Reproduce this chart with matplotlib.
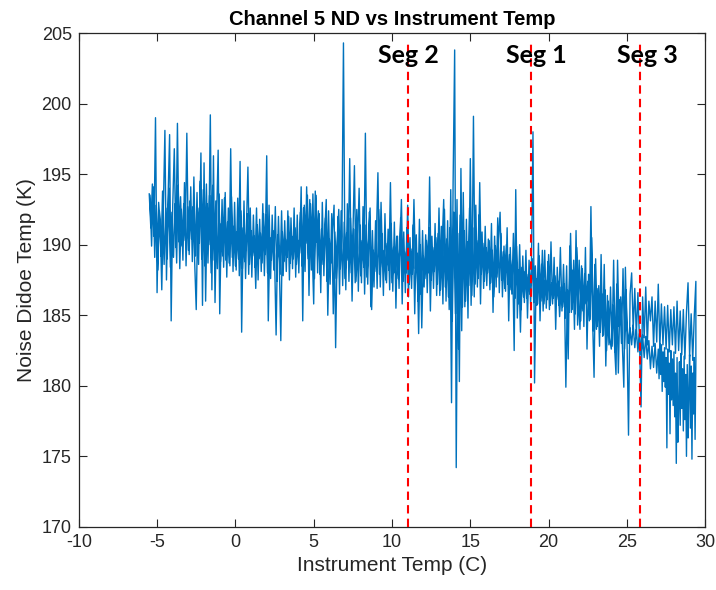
import numpy as np
import matplotlib
matplotlib.use('Agg')
import matplotlib.pyplot as plt

# instrument temp (C) on the warm-up pass
temp_up = [
    -5.5, -5.4, -5.3, -5.2, -5.1, -5.0, -4.9, -4.8, -4.7, -4.6,
    -4.5, -4.4, -4.3, -4.2, -4.1, -4.0, -3.9, -3.8, -3.7, -3.6,
    -3.5, -3.4, -3.3, -3.2, -3.1, -3.0, -2.9, -2.8, -2.7, -2.6,
    -2.5, -2.4, -2.3, -2.2, -2.1, -2.0, -1.9, -1.8, -1.7, -1.6,
    -1.5, -1.4, -1.3, -1.2, -1.1, -1.0, -0.9, -0.8, -0.7, -0.6,
    -0.5, -0.4, -0.3, -0.2, -0.1, 0.0, 0.1, 0.2, 0.3, 0.4,
    0.5, 0.6, 0.7, 0.8, 0.9, 1.0, 1.1, 1.2, 1.3, 1.4,
    1.5, 1.6, 1.7, 1.8, 1.9, 2.0, 2.1, 2.2, 2.3, 2.4,
    2.5, 2.6, 2.7, 2.8, 2.9, 3.0, 3.1, 3.2, 3.3, 3.4,
    3.5, 3.6, 3.7, 3.8, 3.9, 4.0, 4.1, 4.2, 4.3, 4.4,
    4.5, 4.6, 4.7, 4.8, 4.9, 5.0, 5.1, 5.2, 5.3, 5.4,
    5.5, 5.6, 5.7, 5.8, 5.9, 6.0, 6.1, 6.2, 6.3, 6.4,
    6.5, 6.6, 6.7, 6.8, 6.9, 7.0, 7.1, 7.2, 7.3, 7.4,
    7.5, 7.6, 7.7, 7.8, 7.9, 8.0, 8.1, 8.2, 8.3, 8.4,
    8.5, 8.6, 8.7, 8.8, 8.9, 9.0, 9.1, 9.2, 9.3, 9.4,
    9.5, 9.6, 9.7, 9.8, 9.9, 10.0, 10.1, 10.2, 10.3, 10.4,
    10.5, 10.6, 10.7, 10.8, 10.9, 11.0, 11.1, 11.2, 11.3, 11.4,
    11.5, 11.6, 11.7, 11.8, 11.9, 12.0, 12.1, 12.2, 12.3, 12.4,
    12.5, 12.6, 12.7, 12.8, 12.9, 13.0, 13.1, 13.2, 13.3, 13.4,
    13.5, 13.6, 13.7, 13.8, 13.9, 14.0, 14.1, 14.2, 14.3, 14.4,
    14.5, 14.6, 14.7, 14.8, 14.9, 15.0, 15.1, 15.2, 15.3, 15.4,
    15.5, 15.6, 15.7, 15.8, 15.9, 16.0, 16.1, 16.2, 16.3, 16.4,
    16.5, 16.6, 16.7, 16.8, 16.9, 17.0, 17.1, 17.2, 17.3, 17.4,
    17.5, 17.6, 17.7, 17.8, 17.9, 18.0, 18.1, 18.2, 18.3, 18.4,
    18.5, 18.6, 18.7, 18.8, 18.9, 19.0, 19.1, 19.2, 19.3, 19.4,
    19.5, 19.6, 19.7, 19.8, 19.9, 20.0, 20.1, 20.2, 20.3, 20.4,
    20.5, 20.6, 20.7, 20.8, 20.9, 21.0, 21.1, 21.2, 21.3, 21.4,
    21.5, 21.6, 21.7, 21.8, 21.9, 22.0, 22.1, 22.2, 22.3, 22.4,
    22.5, 22.6, 22.7, 22.8, 22.9, 23.0, 23.1, 23.2, 23.3, 23.4,
    23.5, 23.6, 23.7, 23.8, 23.9, 24.0, 24.1, 24.2, 24.3, 24.4,
    24.5, 24.6, 24.7, 24.8, 24.9, 25.0, 25.1, 25.2, 25.3, 25.4,
    25.5, 25.6, 25.7, 25.8, 25.9, 26.0, 26.1, 26.2, 26.3, 26.4,
    26.5, 26.6, 26.7, 26.8, 26.9, 27.0, 27.1, 27.2, 27.3, 27.4,
    27.5, 27.6, 27.7, 27.8, 27.9, 28.0, 28.1, 28.2, 28.3, 28.4,
    28.5, 28.6, 28.7, 28.8, 28.9, 29.0, 29.1, 29.2, 29.3, 29.4,
]

# noise diode temp (K), warm-up pass
nd_up = [
    193.6, 191.2, 194.3, 190.6, 199.0, 186.6, 193.0, 191.5, 186.8, 192.5,
    198.1, 187.5, 193.2, 197.8, 184.6, 192.8, 196.8, 189.8, 198.6, 190.2,
    193.4, 189.9, 192.9, 190.3, 197.9, 189.6, 193.1, 190.4, 192.7, 188.8,
    185.4, 192.6, 190.1, 196.5, 185.7, 195.8, 186.0, 192.9, 190.0, 199.2,
    186.8, 196.3, 185.9, 191.8, 196.7, 185.1, 191.5, 189.2, 193.3, 188.9,
    191.6, 188.7, 196.8, 189.1, 191.3, 188.5, 190.9, 189.0, 195.9, 183.8,
    191.2, 188.8, 190.9, 195.5, 188.6, 191.0, 189.2, 190.6, 186.9, 191.4,
    189.0, 190.8, 188.7, 192.2, 189.3, 196.3, 184.6, 190.5, 188.9, 191.0,
    189.2, 183.6, 190.7, 189.0, 183.2, 190.9, 188.8, 190.4, 189.1, 192.0,
    188.7, 190.6, 189.0, 191.2, 188.6, 190.3, 189.4, 194.1, 184.6, 192.8,
    190.1, 193.5, 186.4, 192.9, 189.8, 185.8, 193.8, 190.2, 192.4, 187.9,
    191.1, 188.6, 190.7, 193.2, 185.0, 190.4, 188.7, 191.0, 192.8, 182.7,
    189.9, 192.5, 188.3, 190.6, 204.3, 187.6, 190.8, 188.9, 196.1, 188.0,
    190.5, 195.6, 187.4, 189.8, 194.0, 187.8, 190.3, 188.4, 197.9, 187.7,
    190.1, 192.6, 185.4, 189.6, 188.1, 190.4, 195.1, 187.9, 193.0, 188.4,
    189.6, 187.5, 190.1, 188.2, 194.4, 187.3, 189.8, 188.0, 190.6, 187.6,
    189.9, 193.2, 187.4, 189.5, 188.0, 192.8, 187.2, 189.7, 187.9, 193.2,
    188.3, 189.4, 183.7, 190.0, 184.1, 189.2, 187.6, 190.3, 188.0, 194.8,
    187.5, 189.8, 188.1, 190.5, 187.2, 192.6, 186.8, 189.9, 193.2, 187.0,
    190.4, 186.3, 191.2, 178.8, 194.3, 203.8, 174.2, 190.8, 180.3, 195.4,
    185.6, 191.0, 186.0, 190.2, 187.1, 196.1, 186.4, 199.1, 187.2, 190.3,
    187.6, 194.4, 187.9, 190.1, 187.4, 189.8, 188.0, 190.3, 187.3, 189.6,
    186.3, 189.9, 187.7, 190.2, 192.3, 187.5, 189.5, 186.9, 190.0, 187.2,
    189.3, 186.8, 188.9, 182.5, 193.9, 184.8, 188.2, 183.8, 188.4, 186.3,
    188.1, 186.2, 187.9, 186.5, 188.3, 198.0, 180.2, 187.6, 185.8, 189.2,
    186.0, 189.6, 185.8, 187.5, 186.1, 189.3, 185.7, 187.3, 186.2, 187.8,
    186.1, 187.4, 184.9, 187.0, 185.6, 187.2, 179.9, 186.8, 185.2, 190.8,
    185.4, 188.9, 185.1, 189.8, 186.2, 184.0, 188.5, 185.3, 187.9, 185.8,
    187.4, 184.6, 192.7, 185.0, 180.6, 189.0, 184.2, 187.1, 183.8, 186.5,
    183.6, 186.8, 182.5, 186.0, 183.4, 182.6, 185.7, 183.0, 180.8, 188.9,
    184.2, 186.3, 183.1, 179.9, 188.4, 183.6, 176.5, 186.5, 188.0, 184.0,
    186.9, 183.6, 186.6, 183.2, 178.5, 186.3, 183.4, 187.0, 182.9, 186.0,
    184.6, 186.3, 182.8, 186.0, 183.1, 187.2, 182.7, 185.8, 182.9, 185.6,
    182.6, 185.7, 182.4, 185.4, 182.9, 185.6, 182.3, 186.0, 182.5, 185.3,
    182.2, 185.4, 181.9, 185.2, 187.3, 182.1, 185.1, 181.8, 185.0, 187.4,
]

# cool-down pass: instrument temp (C)
temp_down = [
    29.40, 29.35, 29.30, 29.25, 29.20, 29.15, 29.10, 29.05, 29.00, 28.95,
    28.90, 28.85, 28.80, 28.75, 28.70, 28.65, 28.60, 28.55, 28.50, 28.45,
    28.40, 28.35, 28.30, 28.25, 28.20, 28.15, 28.10, 28.05, 28.00, 27.95,
    27.90, 27.85, 27.80, 27.75, 27.70, 27.65, 27.60, 27.55, 27.50, 27.45,
    27.40, 27.35, 27.30, 27.25, 27.20, 27.15, 27.10, 27.05,
    27.0, 26.9, 26.8, 26.7, 26.6, 26.5, 26.4, 26.3, 26.2, 26.1,
    26.0, 25.9, 25.8, 25.7, 25.6, 25.5, 25.4, 25.3, 25.2, 25.1,
    25.0,
    24.95, 24.85, 24.75, 24.65, 24.55, 24.45, 24.35, 24.25, 24.15, 24.05,
    23.95, 23.85, 23.75, 23.65, 23.55, 23.45, 23.35, 23.25, 23.15, 23.05,
    22.95, 22.85, 22.75, 22.65, 22.55, 22.45, 22.35, 22.25, 22.15, 22.05,
    21.95, 21.85, 21.75, 21.65, 21.55, 21.45, 21.35, 21.25, 21.15, 21.05,
    20.95, 20.85, 20.75, 20.65, 20.55, 20.45, 20.35, 20.25, 20.15, 20.05,
    19.95, 19.85, 19.75, 19.65, 19.55, 19.45, 19.35, 19.25, 19.15, 19.05,
    18.95, 18.85, 18.75, 18.65, 18.55, 18.45, 18.35, 18.25, 18.15, 18.05,
    17.95, 17.85, 17.75, 17.65, 17.55, 17.45, 17.35, 17.25, 17.15, 17.05,
    16.95, 16.85, 16.75, 16.65, 16.55, 16.45, 16.35, 16.25, 16.15, 16.05,
    15.95, 15.85, 15.75, 15.65, 15.55, 15.45, 15.35, 15.25, 15.15, 15.05,
    14.95, 14.85, 14.75, 14.65, 14.55, 14.45, 14.35, 14.25, 14.15, 14.05,
    13.95, 13.85, 13.75, 13.65, 13.55, 13.45, 13.35, 13.25, 13.15, 13.05,
    12.95, 12.85, 12.75, 12.65, 12.55, 12.45, 12.35, 12.25, 12.15, 12.05,
    11.95, 11.85, 11.75, 11.65, 11.55, 11.45, 11.35, 11.25, 11.15, 11.05,
    10.95, 10.85, 10.75, 10.65, 10.55, 10.45, 10.35, 10.25, 10.15, 10.05,
    9.95, 9.85, 9.75, 9.65, 9.55, 9.45, 9.35, 9.25, 9.15, 9.05,
    8.95, 8.85, 8.75, 8.65, 8.55, 8.45, 8.35, 8.25, 8.15, 8.05,
    7.95, 7.85, 7.75, 7.65, 7.55, 7.45, 7.35, 7.25, 7.15, 7.05,
    6.95, 6.85, 6.75, 6.65, 6.55, 6.45, 6.35, 6.25, 6.15, 6.05,
    5.95, 5.85, 5.75, 5.65, 5.55, 5.45, 5.35, 5.25, 5.15, 5.05,
    4.95, 4.85, 4.75, 4.65, 4.55, 4.45, 4.35, 4.25, 4.15, 4.05,
    3.95, 3.85, 3.75, 3.65, 3.55, 3.45, 3.35, 3.25, 3.15, 3.05,
    2.95, 2.85, 2.75, 2.65, 2.55, 2.45, 2.35, 2.25, 2.15, 2.05,
    1.95, 1.85, 1.75, 1.65, 1.55, 1.45, 1.35, 1.25, 1.15, 1.05,
    0.95, 0.85, 0.75, 0.65, 0.55, 0.45, 0.35, 0.25, 0.15, 0.05,
    -0.05, -0.15, -0.25, -0.35, -0.45, -0.55, -0.65, -0.75, -0.85, -0.95,
    -1.05, -1.15, -1.25, -1.35, -1.45, -1.55, -1.65, -1.75, -1.85, -1.95,
    -2.05, -2.15, -2.25, -2.35, -2.45, -2.55, -2.65, -2.75, -2.85, -2.95,
    -3.05, -3.15, -3.25, -3.35, -3.45, -3.55, -3.65, -3.75, -3.85, -3.95,
    -4.05, -4.15, -4.25, -4.35, -4.45, -4.55, -4.65, -4.75, -4.85, -4.95,
    -5.05, -5.15, -5.25, -5.35, -5.45,
]

# cool-down pass: noise diode temp (K)
nd_down = [
    181.8, 176.2, 182.0, 178.0, 180.9, 174.8, 181.4, 177.0, 182.2, 179.6,
    176.3, 181.5, 175.0, 180.8, 177.6, 182.1, 176.8, 181.2, 178.4, 182.3,
    177.2, 181.7, 178.5, 176.0, 182.0, 174.5, 180.9, 177.8, 182.4, 178.6,
    181.9, 179.0, 182.5, 176.6, 181.6, 179.4, 182.6, 175.6, 182.0, 179.9,
    182.7, 180.3, 182.4, 179.6, 182.9, 180.8, 183.0, 180.5,
    182.6, 180.9, 183.0, 181.3, 182.8, 181.2, 183.2, 181.9, 183.5, 182.0,
    183.6, 182.2, 183.7, 182.4, 184.0, 182.7, 184.3, 182.9, 184.1, 183.0,
    184.5,
    186.8, 182.6, 188.3, 183.0, 186.1, 180.9, 187.2, 182.4, 188.9, 182.8,
    187.0, 182.9, 186.4, 181.4, 188.6, 183.5, 189.3, 182.8, 186.9, 184.0,
    188.6, 183.9, 190.5, 184.7, 187.9, 182.6, 189.8, 184.2, 188.3, 184.6,
    188.9, 184.3, 191.0, 184.0, 188.2, 185.2, 189.9, 181.9, 188.5, 184.8,
    188.6, 185.3, 189.8, 185.7, 188.4, 184.0, 189.1, 185.8, 190.2, 185.4,
    188.8, 185.5, 189.6, 185.3, 188.6, 184.6, 190.1, 185.7, 188.5, 185.9,
    189.0, 185.8, 188.9, 184.8, 189.6, 185.9, 189.2, 185.4, 190.0, 185.8,
    189.9, 186.2, 190.8, 186.5, 189.8, 184.6, 191.2, 186.7, 189.9, 186.3,
    190.8, 186.6, 191.9, 187.0, 190.6, 185.2, 191.5, 186.8, 190.4, 187.1,
    191.3, 186.9, 190.9, 185.8, 192.1, 187.0, 192.8, 186.3, 191.2, 185.7,
    192.6, 184.8, 191.8, 185.6, 193.7, 183.9, 192.1, 182.6, 193.2, 185.1,
    192.3, 184.6, 193.9, 185.4, 191.7, 186.0, 192.5, 185.8, 191.3, 186.4,
    190.8, 186.4, 191.5, 186.9, 190.6, 185.3, 191.2, 186.6, 190.7, 187.0,
    191.0, 186.5, 191.8, 186.0, 190.7, 185.1, 191.4, 186.9, 190.5, 186.3,
    191.2, 186.6, 190.9, 185.8, 191.9, 186.9, 190.6, 185.5, 191.6, 186.7,
    191.5, 186.8, 191.1, 187.3, 192.2, 186.4, 190.8, 187.0, 192.5, 186.9,
    191.7, 187.0, 191.0, 185.6, 192.3, 187.2, 191.4, 186.5, 192.7, 187.3,
    191.4, 186.7, 192.5, 187.3, 191.1, 186.0, 191.9, 187.4, 192.9, 186.8,
    191.6, 187.1, 192.4, 186.5, 192.0, 187.6, 190.9, 185.1, 192.2, 187.2,
    192.4, 187.4, 191.9, 187.8, 193.0, 186.6, 192.2, 188.0, 193.5, 187.6,
    193.6, 188.2, 193.2, 189.0, 194.1, 188.1, 192.6, 188.5, 192.3, 188.0,
    192.1, 187.7, 192.6, 188.3, 191.9, 187.5, 192.4, 188.1, 191.7, 187.8,
    192.4, 187.9, 192.0, 187.4, 192.7, 188.2, 192.1, 187.6, 192.8, 188.0,
    192.1, 187.8, 192.9, 188.1, 191.8, 187.5, 192.6, 188.4, 192.1, 187.7,
    192.6, 187.9, 192.2, 187.6, 193.1, 188.3, 192.4, 187.8, 193.3, 188.2,
    193.0, 188.1, 193.4, 188.5, 192.6, 187.7, 193.7, 188.4, 193.2, 188.8,
    193.6, 188.3, 193.1, 188.9, 194.2, 188.0, 193.5, 188.7, 194.3, 188.5,
    193.9, 189.0, 194.5, 188.6, 193.7, 189.2, 194.8, 188.8, 194.1, 189.3,
    192.7, 188.5, 194.4, 188.9, 192.5, 188.3, 194.2, 188.7, 192.9, 189.1,
    192.3, 188.4, 194.0, 189.0, 192.6, 188.6, 193.8, 189.2, 192.4, 188.2,
    192.8, 189.1, 194.1, 189.9, 193.5,
]

seg_names = ['Seg 2', 'Seg 1', 'Seg 3']
seg_edges = [11.05, 18.85, 25.85]
seg_label_x = [11.05, 19.2, 26.3]

ink = '#262626'
plt.rcParams['font.family'] = ['Liberation Sans', 'DejaVu Sans']
plt.rcParams['axes.unicode_minus'] = False

fig = plt.figure(figsize=(7.16, 5.90), dpi=100)
ax = fig.add_axes([0.110, 0.107, 0.875, 0.837])

x = np.concatenate([temp_up, temp_down])
y = np.concatenate([nd_up, nd_down])
ax.plot(x, y, '-', lw=1.0, color='#0072BD')

for xe in seg_edges:
    ax.axvline(xe, ymin=0, ymax=0.985, color='#FF0000', lw=1.5,
               linestyle=(0, (4, 2.5)), zorder=3)
for name, xl in zip(seg_names, seg_label_x):
    ax.text(xl, 203.4, name, ha='center', va='center', fontsize=18,
            fontweight='bold', family=['Lato', 'DejaVu Sans'], color='black',
            zorder=4)

ax.set_xlim(-10, 30)
ax.set_ylim(170, 205)
ax.set_xticks(range(-10, 31, 5))
ax.set_yticks(range(170, 206, 5))
ax.tick_params(direction='in', top=True, right=True, length=6, width=0.8,
               colors=ink, labelsize=13, pad=5)
for s in ax.spines.values():
    s.set_color(ink)
    s.set_linewidth(0.9)

ax.set_title('Channel 5 ND vs Instrument Temp', fontsize=14.5,
             fontweight='bold', color='black', pad=6)
ax.set_xlabel('Instrument Temp (C)', fontsize=15, color=ink)
ax.set_ylabel('Noise Didoe Temp (K)', fontsize=15, color=ink)

fig.savefig('out.png', dpi=100)
